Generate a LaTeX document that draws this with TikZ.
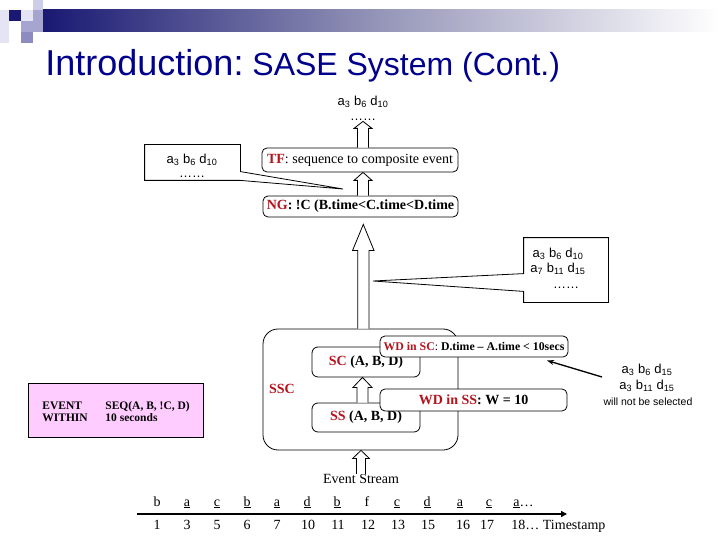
\documentclass[tikz,border=0pt]{standalone}
\usepackage{fontspec}
\setmainfont{Liberation Serif}
\newfontfamily\arialf{Liberation Sans}
\usetikzlibrary{calc,arrows.meta}
\definecolor{navyb}{RGB}{25,25,115}
\definecolor{titleblue}{RGB}{0,0,140}
\definecolor{dred}{RGB}{180,20,30}
\definecolor{pinkbg}{RGB}{255,204,255}
\definecolor{lavA}{RGB}{228,228,244}
\definecolor{lavB}{RGB}{205,205,232}
\definecolor{lavC}{RGB}{165,165,208}
\definecolor{lavD}{RGB}{140,140,192}
\newcommand\fsz[2]{\fontsize{#1}{#2}\selectfont}
\newcommand\rd[1]{\textcolor{dred}{\textbf{#1}}}
\newcommand\sbs[1]{\textsubscript{#1}}
% block (hollow) arrow: x, bottom anchor, top anchor, head length, head half width, shaft half width
\newcommand\blockarr[6]{%
  \coordinate (bax) at (#1,0);
  \draw[fill=white, line width=0.8pt, line join=miter]
    ($(bax |- #2)+(-#6,0)$) -- ($(bax |- #3)+(-#6,#4)$) -- ($(bax |- #3)+(-#5,#4)$)
    -- (bax |- #3) -- ($(bax |- #3)+(#5,#4)$) -- ($(bax |- #3)+(#6,#4)$) -- ($(bax |- #2)+(#6,0)$);
}
\frenchspacing
\begin{document}
\begin{tikzpicture}[x=1pt,y=-1pt,line width=0.8pt,
  rbox/.style={draw, fill=white, rounded corners=5pt, inner sep=0pt},
  txt/.style={inner sep=0pt, font={\fsz{14}{16}}},
  atxt/.style={inner sep=0pt, font={\arialf\fsz{13}{15}}},
  dots/.style={inner sep=0pt, font={\arialf\fsz{13}{15}}, text height=2.5pt, text depth=0.5pt},
  stxt/.style={inner sep=0pt, font={\fsz{14}{16}}, anchor=base},
  ]
\useasboundingbox (0,0) rectangle (720,540);
\fill[white] (0,0) rectangle (720,540);
% header decoration
\shade[left color=navyb, right color=white, middle color={rgb,255:red,150;green,150;blue,185}] (43,10) rectangle (720,32);
\fill[lavA] (0,10) rectangle (9,43);
\fill[navyb] (9,10) rectangle (21,21);
\fill[lavA] (21,10) rectangle (33,21);
\fill[lavB] (33,0) rectangle (43,10);
\fill[lavC] (33,10) rectangle (43,32);
\fill[lavC] (21,21) rectangle (33,32);
\fill[lavD] (21,32) rectangle (33,43);
% title
\node[anchor=base west, inner sep=0pt, text=titleblue] (title) at (45,76)
  {\arialf\fsz{36}{40}Introduction:{\fsz{32}{36} SASE System (Cont.)}};

% top result
\node[atxt] (top1) at (363,102) {a\sbs{3} b\sbs{6} d\sbs{10}};
\node[dots] (top2) at (363,119.5) {……};

% TF and NG boxes
\node[rbox, minimum width=196pt, minimum height=24pt, font={\fsz{14}{16}}] (tf) at (360,160)
  {\rd{TF}: sequence to composite event};
\node[rbox, minimum width=195pt, minimum height=21pt, font={\fsz{14}{16}}] (ng) at (360.5,206.5)
  {\rd{NG}\textbf{: !C (B.time<C.time<D.time}};

% left callout
\node[inner sep=0pt, minimum width=95pt, minimum height=35pt] (lc) at (192.5,162.5) {};
\coordinate (lctip) at (343,189);
\draw (lc.north west) -- (lc.north east) -- ($(lc.north east)+(0,27)$) -- (lctip)
  -- (lc.south east) -- (lc.south west) -- cycle;
\node[atxt] (lc1) at (192,159.5) {a\sbs{3} b\sbs{6} d\sbs{10}};
\node[dots] (lc2) at (192,176.5) {……};

% right callout
\node[inner sep=0pt, minimum width=84pt, minimum height=64pt] (rc) at (566,270) {};
\coordinate (rctip) at (373,281);
\draw (rc.north west) -- (rc.north east) -- (rc.south east) -- (rc.south west)
  -- ($(rc.south west)+(0,-11)$) -- (rctip) -- ($(rc.north west)+(0,36)$) -- cycle;
\node[atxt] (rc1) at (558,254) {a\sbs{3} b\sbs{6} d\sbs{10}};
\node[atxt] (rc2) at (558,269) {a\sbs{7} b\sbs{11} d\sbs{15}};
\node[dots] (rc3) at (566,287) {……};

% SSC big box
\node[draw, rounded corners=15pt, inner sep=0pt, minimum width=195pt, minimum height=121pt] (ssc) at (360.5,389.5) {};
\node[inner sep=0pt, font={\fsz{14}{16}}] (ssclab) at (282,389) {\rd{SSC}};
\node[rbox, rounded corners=6pt, minimum width=108pt, minimum height=30pt, font={\fsz{14}{16}}] (sc) at (366,362)
  {\rd{SC} \textbf{(A, B, D)}};
\node[rbox, rounded corners=6pt, minimum width=108pt, minimum height=29pt, font={\fsz{14}{16}}] (ss) at (366,417.5)
  {\rd{SS} \textbf{(A, B, D)}};
\node[rbox, minimum width=188pt, minimum height=21pt, font={\fsz{11.8}{14}}] (wdsc) at (474,346.5)
  {\rd{WD in SC}: \textbf{D.time – A.time < 10secs}};
\node[rbox, minimum width=187pt, minimum height=22pt, font={\fsz{14}{16}}] (wdss) at (473.5,400)
  {\rd{WD in SS}\textbf{: W = 10}};

% block arrows
\blockarr{363}{tf.north}{top2.south}{7}{9}{5.5}
\blockarr{363}{ng.north}{tf.south}{8}{9}{5.5}
\coordinate (ngtip) at ($(ng.south)+(0,7)$);
\blockarr{363.3}{ssc.north}{ngtip}{26}{10.7}{5.6}
\blockarr{362.5}{ss.north}{sc.south}{10}{9.5}{5.5}

% not selected note
\node[atxt] (ns1) at (647,370) {a\sbs{3} b\sbs{6} d\sbs{15}};
\node[atxt] (ns2) at (647,385.5) {a\sbs{3} b\sbs{11} d\sbs{15}};
\node[inner sep=0pt, font={\arialf\fsz{10.5}{12}}] (ns3) at (648,402) {will not be selected};
\coordinate (nsA) at (602,377);
\coordinate (nsB) at (547,360.5);
\draw[line width=1.3pt, -{Stealth[length=7pt,width=5pt]}] (nsA) -- (nsB);

% query box
\node[draw, fill=pinkbg, inner sep=0pt, minimum width=175pt, minimum height=54pt] (qbox) at (115.5,410) {};
\node[inner sep=0pt, anchor=base west, font={\fsz{11.5}{13}\bfseries}] (q1) at (42,409.5) {EVENT};
\node[inner sep=0pt, anchor=base west, font={\fsz{11.5}{13}\bfseries}] (q2) at (42,421.5) {WITHIN};
\node[inner sep=0pt, anchor=base west, font={\fsz{11.5}{13}\bfseries}] (q3) at (105,409.5) {SEQ(A, B, !C, D)};
\node[inner sep=0pt, anchor=base west, font={\fsz{11.5}{13}\bfseries}] (q4) at (105,421.5) {10 seconds};

% event stream
\node[txt] (es) at (361,479) {Event Stream};
\blockarr{361}{es.north}{ssc.south}{8}{8.3}{4.5}

\coordinate (s0) at (137,514);
\coordinate (s1) at (567,514);
\draw[line width=1.3pt, -{Triangle[length=6pt,width=6pt]}] (s0) -- (s1);

\foreach \x/\t [count=\i] in {157/b,187/\underline{a},217/\underline{c},247/\underline{b},277/\underline{a},
   307/\underline{d},337/\underline{b},367/f,397/\underline{c},427/\underline{d},460/\underline{a},489/\underline{c}}
  \node[stxt] (ev\i) at (\x,506) {\t};
\node[stxt, anchor=base west] (ev13) at (513,506) {\underline{a}…};

\foreach \x/\t [count=\i] in {157/1,187/3,217/5,247/6,277/7,308/10,338/11,368/12,398/13,428/15,463/16,487/17}
  \node[stxt] (ts\i) at (\x,529.5) {\t};
\node[stxt, anchor=base west] (ts13) at (511,529.5) {18… Timestamp};
\end{tikzpicture}
\end{document}
